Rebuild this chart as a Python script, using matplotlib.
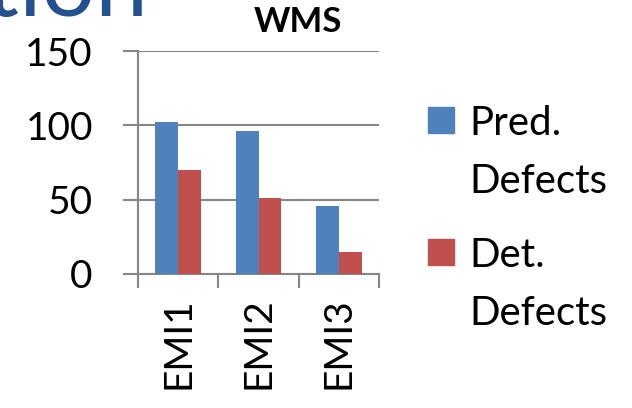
import matplotlib
matplotlib.use("Agg")
import matplotlib.pyplot as plt
from matplotlib.patches import Rectangle
import numpy as np

# datos del gráfico
categorias = ["EMI1", "EMI2", "EMI3"]
pred_defects = [102, 96, 46]
det_defects = [70, 51, 15]
series = ["Pred.\nDefects", "Det.\nDefects"]
colores = ["#4F81BD", "#C0504D"]
titulo = "WMS"
yticks = [0, 50, 100, 150]

W, H = 632, 408
gris = "#868686"
plt.rcParams["font.family"] = ["Lato", "DejaVu Sans"]

fig = plt.figure(figsize=(W / 100, H / 100), dpi=100)

def px(x, y):
    # pixeles (origen arriba a la izquierda) -> coordenadas de figura
    return x / W, 1 - y / H

# área del gráfico
ax = fig.add_axes([138 / W, 1 - 274 / H, (379 - 138) / W, (274 - 51) / H])
x = np.arange(len(categorias))
ancho = 0.286
ax.bar(x - ancho / 2, pred_defects, ancho, color=colores[0], zorder=3)
ax.bar(x + ancho / 2, det_defects, ancho, color=colores[1], zorder=3)

ax.set_xlim(-0.5, len(categorias) - 0.5)
ax.set_ylim(0, 150)
ax.set_yticks(yticks)
ax.set_yticklabels([str(v) for v in yticks], fontsize=28)
ax.yaxis.grid(True, color=gris, linewidth=1.5, zorder=0)
ax.set_axisbelow(True)

# marcas entre categorías y etiquetas centradas
ax.set_xticks(np.arange(-0.5, len(categorias), 1.0))
ax.set_xticklabels([])
ax.set_xticks(x, minor=True)
ax.set_xticklabels(categorias, minor=True, rotation=90, fontsize=28, va="top")
ax.tick_params(axis="x", which="major", direction="out", length=10, width=1.5, color=gris)
ax.tick_params(axis="x", which="minor", length=0, pad=17)
ax.tick_params(axis="y", direction="out", length=10.5, width=1.5, color=gris, pad=22)

for lado in ["top", "right"]:
    ax.spines[lado].set_visible(False)
for lado in ["left", "bottom"]:
    ax.spines[lado].set_color(gris)
    ax.spines[lado].set_linewidth(1.5)

# título del gráfico
fig.text(*px(298, 32), titulo, fontsize=25, fontweight="bold",
         ha="center", va="baseline")

# resto del título de la diapositiva
fig.text(*px(148, 16), "tion", fontsize=68, color="#23508E",
         ha="right", va="baseline")

# leyenda
for i, (nombre, color) in enumerate(zip(series, colores)):
    y0 = 107 + i * 132
    fig.patches.append(Rectangle(px(428, y0 + 26), 26 / W, 26 / H,
                                 transform=fig.transFigure, color=color))
    for j, linea in enumerate(nombre.split("\n")):
        fig.text(*px(469, y0 + 28 + j * 58), linea, fontsize=29,
                 ha="left", va="baseline")

fig.savefig("out.png", dpi=100)
